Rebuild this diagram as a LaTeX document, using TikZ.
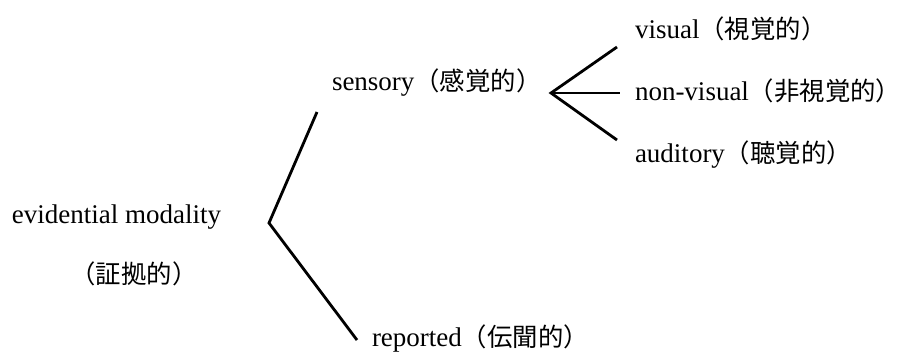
\documentclass[tikz,border=0pt]{standalone}
\usepackage{fontspec}
\setmainfont{Liberation Serif}
\newfontfamily\cjk{Noto Sans CJK JP}[Scale=0.94]
\begin{document}
\begin{tikzpicture}[x=1pt,y=-1pt,
  lbl/.style={inner sep=0pt, outer sep=0pt, anchor=base west, font=\fontsize{27}{32}\selectfont},
  branch/.style={line width=2.8pt, line join=miter}]
\useasboundingbox (0,0) rectangle (903,353);
% labels
\node[lbl] (ev) at (12,223) {evidential modality};
\node[lbl, anchor=center] (evj) at (134,274) {\cjk（証拠的）};
\node[lbl] (sen) at (332,91) {sensory\cjk（感覚的）};
\node[lbl] (rep) at (372,346) {reported\cjk（伝聞的）};
\node[lbl] (vis) at (635,39) {visual\cjk（視覚的）};
\node[lbl] (nvis) at (635,101) {non-visual\cjk（非視覚的）};
\node[lbl] (aud) at (635,162) {auditory\cjk（聴覚的）};
% branch points
\coordinate (v1) at (269,223);
\coordinate (v1a) at (317,112);
\coordinate (v1b) at (357,340);
\coordinate (v2) at (551,93);
\coordinate (v2a) at (617,47);
\coordinate (v2b) at (620,93);
\coordinate (v2c) at (617,140);
\draw[branch] (v1a) -- (v1) -- (v1b);
\draw[branch] (v2a) -- (v2) -- (v2c);
\draw[branch] (v2) -- (v2b);
\end{tikzpicture}
\end{document}
